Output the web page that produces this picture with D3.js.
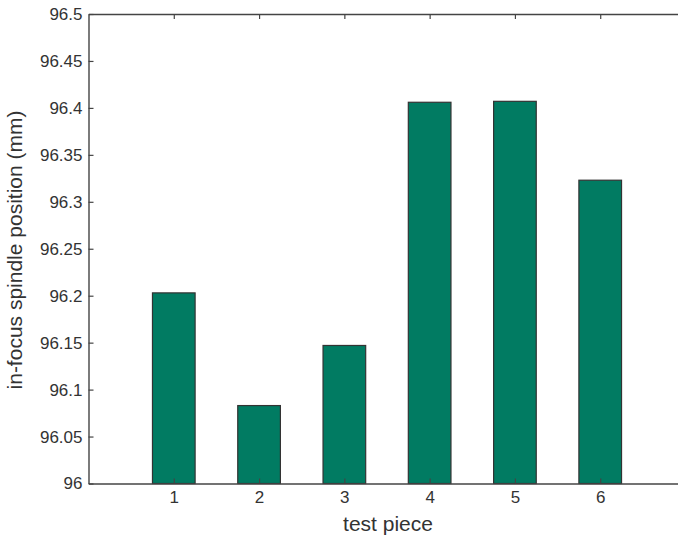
<!DOCTYPE html>
<html>
<head>
<meta charset="utf-8">
<script src="https://cdn.jsdelivr.net/npm/d3@7"></script>
<style>
  body { margin: 0; background: #fff; }
  text { font-family: "Liberation Sans", Arial, sans-serif; fill: #333; }
</style>
</head>
<body>
<div id="chart"></div>
<script>
var pieces = [1, 2, 3, 4, 5, 6];
var spindlePos = [96.203, 96.083, 96.147, 96.406, 96.407, 96.323];
var yTicks = [96, 96.05, 96.1, 96.15, 96.2, 96.25, 96.3, 96.35, 96.4, 96.45, 96.5];

var width = 678, height = 541;
// plot box; right side runs past the picture edge
var boxLeft = 88.5, boxTop = 14, boxBottom = 483.5, boxRight = 685.5;

var svg = d3.select('#chart').append('svg')
  .attr('width', width)
  .attr('height', height);

var x = d3.scaleLinear().domain([0, 7]).range([boxLeft, boxRight]);
var y = d3.scaleLinear().domain([96, 96.5]).range([boxBottom, boxTop]);

// bars
svg.append('g').selectAll('rect')
  .data(pieces)
  .enter().append('rect')
  .attr('x', function(d) { return x(d - 0.25); })
  .attr('width', function(d) { return x(d + 0.25) - x(d - 0.25); })
  .attr('y', function(d, i) { return y(spindlePos[i]); })
  .attr('height', function(d, i) { return boxBottom - y(spindlePos[i]); })
  .attr('fill', '#017b62')
  .attr('stroke', '#333')
  .attr('stroke-width', 1.2);

// axes (ticks inward, like matlab)
var axisColor = '#444';
var yAxis = svg.append('g')
  .attr('transform', 'translate(' + boxLeft + ',0)')
  .call(d3.axisLeft(y).tickValues(yTicks).tickSizeInner(-5).tickSizeOuter(0).tickPadding(6)
    .tickFormat(function(d) { return String(+d.toFixed(2)); }));
var yAxisR = svg.append('g')
  .attr('transform', 'translate(' + boxRight + ',0)')
  .call(d3.axisRight(y).tickValues(yTicks).tickSizeInner(-5).tickSizeOuter(0).tickFormat(''));
var xAxis = svg.append('g')
  .attr('transform', 'translate(0,' + boxBottom + ')')
  .call(d3.axisBottom(x).tickValues(pieces).tickSizeInner(-5).tickSizeOuter(0).tickPadding(7)
    .tickFormat(d3.format('d')));
var xAxisT = svg.append('g')
  .attr('transform', 'translate(0,' + boxTop + ')')
  .call(d3.axisTop(x).tickValues(pieces).tickSizeInner(-5).tickSizeOuter(0).tickFormat(''));

[yAxis, yAxisR, xAxis, xAxisT].forEach(function(a) {
  a.attr('font-size', 17).attr('font-family', '"Liberation Sans", Arial, sans-serif');
  a.select('.domain').attr('stroke', axisColor).attr('stroke-width', 1.4);
  a.selectAll('.tick line').attr('stroke', axisColor).attr('stroke-width', 1.2);
  a.selectAll('.tick text').attr('fill', '#333');
});

// axis labels
svg.append('text')
  .attr('x', 388)
  .attr('y', 531)
  .attr('text-anchor', 'middle')
  .attr('font-size', 21)
  .text('test piece');

svg.append('text')
  .attr('transform', 'translate(22,250) rotate(-90)')
  .attr('text-anchor', 'middle')
  .attr('font-size', 21)
  .text('in-focus spindle position (mm)');
</script>
</body>
</html>
